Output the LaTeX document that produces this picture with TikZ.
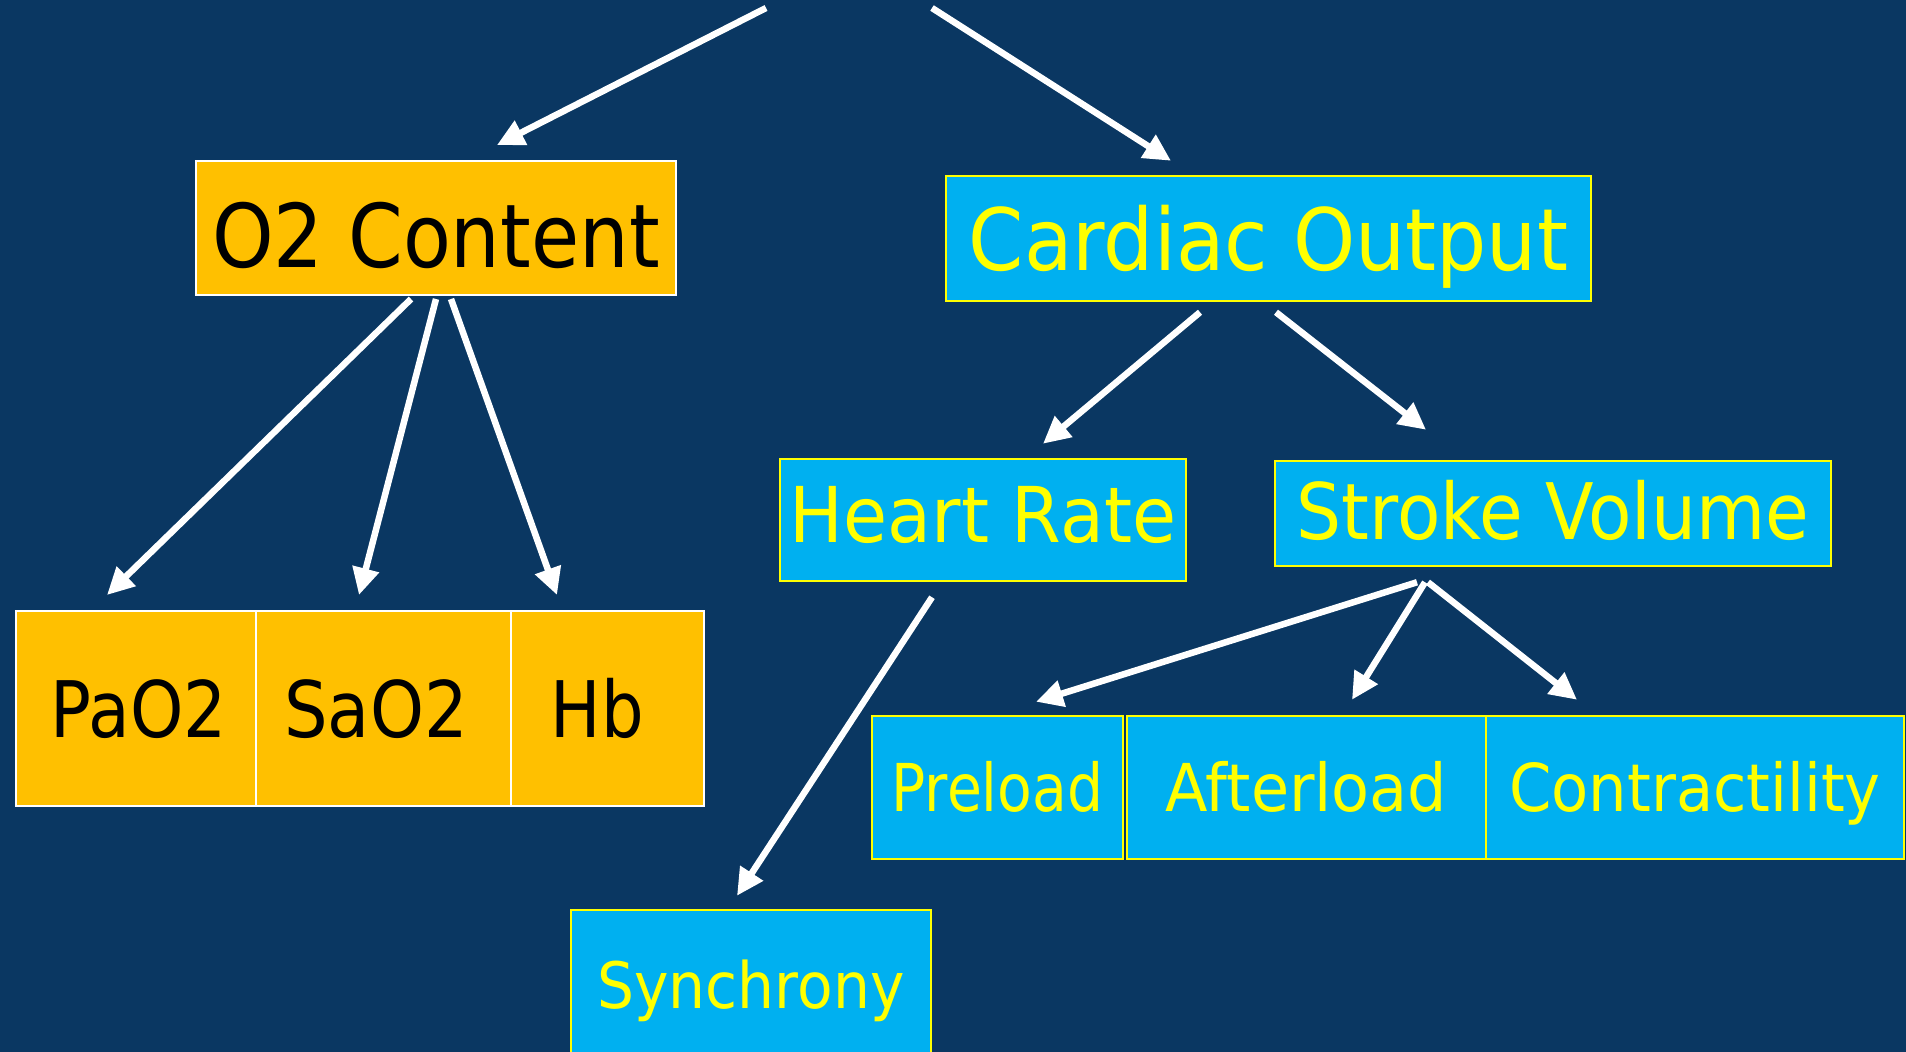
\documentclass[tikz,border=0pt]{standalone}
\usepackage{fontspec}
\usepackage{graphicx}
\setmainfont{DejaVu Sans}
\usetikzlibrary{arrows.meta,calc}
\definecolor{bg}{RGB}{10,55,98}
\definecolor{orangebox}{RGB}{255,192,0}
\definecolor{bluebox}{RGB}{0,176,240}
\definecolor{yel}{RGB}{255,255,0}
\newcommand{\fs}[3]{\fontsize{#1}{#1}\selectfont\scalebox{#2}[1]{#3}}
\begin{document}
\begin{tikzpicture}[x=1pt,y=-1pt,
  obox/.style={draw=white,line width=2pt,fill=orangebox,text=black,inner sep=0pt,text depth=0pt},
  bbox/.style={draw=yel,line width=2.5pt,fill=bluebox,text=yel,inner sep=0pt,text depth=0pt},
  arr/.style={draw=white,line width=6.5pt,-{Triangle[length=27pt,width=26pt]}}]
\fill[bg] (0,0) rectangle (1906,1052);
\useasboundingbox (0,0) rectangle (1906,1052);
\clip (0,0) rectangle (1906,1052);
% top level
\node[obox,minimum width=480pt,minimum height=134pt,text height=78pt] (o2) at (436,228) {\fs{88}{0.89}{O2 Content}};
\node[bbox,minimum width=645pt,minimum height=125pt,text height=63pt] (co) at (1268.5,238.5) {\fs{86}{0.92}{Cardiac Output}};
% second level
\node[bbox,minimum width=406pt,minimum height=122pt,text height=56pt,text depth=12pt] (hr) at (983,520) {\fs{77}{0.93}{Heart Rate}};
\node[bbox,minimum width=556pt,minimum height=105pt,text height=57pt,text depth=5pt] (sv) at (1553,513.5) {\fs{78}{0.91}{Stroke Volume}};
% O2 children
\node[obox,minimum width=240pt,minimum height=195pt,text height=57pt] (pao2) at (136,708.5) {\fs{78}{0.87}{PaO2}\hspace*{-6pt}};
\node[obox,minimum width=255pt,minimum height=195pt,text height=57pt] (sao2) at (383.5,708.5) {\fs{78}{0.88}{SaO2}\hspace*{15pt}};
\node[obox,minimum width=193pt,minimum height=195pt,text height=57pt] (hb) at (607.5,708.5) {\fs{78}{0.86}{Hb}\hspace*{20pt}};
% SV children
\node[bbox,minimum width=251pt,minimum height=143pt,text height=48pt] (pre) at (997.5,787.5) {\fs{66}{0.86}{Preload}};
\node[bbox,minimum width=359pt,minimum height=143pt,text height=48pt] (aft) at (1306.5,787.5) {\fs{66}{0.94}{Afterload}};
\node[bbox,minimum width=418pt,minimum height=143pt,text height=48pt] (con) at (1695,787.5) {\fs{66}{0.92}{Contractility}};
% HR child
\node[bbox,minimum width=360pt,minimum height=160pt,text height=47pt,text depth=10pt] (syn) at (751,990) {\fs{64}{0.91}{Synchrony}};
% free ends at top
\coordinate (top1) at (766,8);
\coordinate (top2) at (932,8);
% arrows
\draw[arr] (top1) -- ($(o2.north)+(61,-15)$);
\draw[arr] (top2) -- ($(co.north)+(-97.5,-14)$);
\draw[arr] ($(o2.south)+(-25,3)$) -- ($(pao2.north)+(-29,-15)$);
\draw[arr] ($(o2.south)+(0,3)$) -- ($(sao2.north)+(-24.5,-15)$);
\draw[arr] ($(o2.south)+(15,3)$) -- ($(hb.north)+(-50.5,-15)$);
\draw[arr] ($(co.south)+(-68.5,10)$) -- ($(hr.north)+(60,-14)$);
\draw[arr] ($(co.south)+(7.5,10)$) -- ($(sv.north)+(-127,-30)$);
\draw[arr] ($(hr.south)+(-51,15)$) -- ($(syn.north)+(-14,-13)$);
\draw[arr] ($(sv.south)+(-136,15)$) -- ($(pre.north)+(38.5,-13)$);
\draw[arr] ($(sv.south)+(-128,15)$) -- ($(aft.north)+(45.5,-15)$);
\draw[arr] ($(sv.south)+(-125,15)$) -- ($(con.north)+(-118,-15)$);
\end{tikzpicture}
\end{document}
